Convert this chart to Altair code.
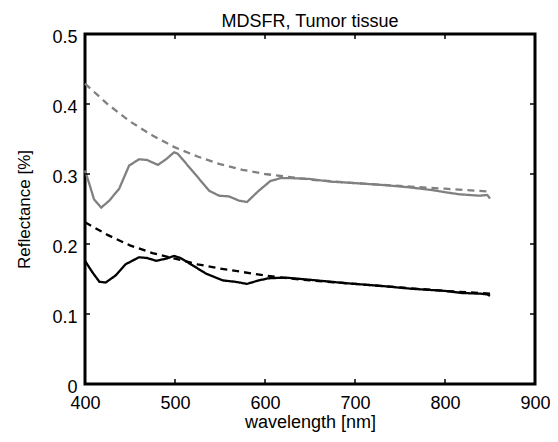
import altair as alt
import pandas as pd

# ---- data ----
gray_solid_wl = [400, 405, 410, 418, 427, 438, 449, 460, 469, 481, 490, 499, 503, 519, 538, 549, 560, 571, 580, 593, 606, 617, 630, 649, 674, 700, 734, 760, 786, 800, 816, 838, 847, 850]
gray_solid_r = [0.305, 0.285, 0.264, 0.252, 0.262, 0.279, 0.312, 0.321, 0.320, 0.313, 0.321, 0.331, 0.329, 0.305, 0.276, 0.269, 0.268, 0.262, 0.260, 0.276, 0.290, 0.294, 0.294, 0.293, 0.289, 0.287, 0.284, 0.281, 0.277, 0.274, 0.271, 0.269, 0.270, 0.265]

gray_dash_wl = [400, 425, 450, 475, 500, 525, 550, 575, 600, 625, 650, 700, 750, 800, 850]
gray_dash_r = [0.429, 0.400, 0.375, 0.355, 0.338, 0.325, 0.314, 0.306, 0.300, 0.296, 0.292, 0.287, 0.283, 0.279, 0.275]

black_solid_wl = [400, 408, 416, 423, 434, 445, 460, 469, 479, 490, 499, 506, 519, 534, 553, 567, 580, 593, 604, 623, 649, 690, 730, 763, 800, 819, 840, 847, 850]
black_solid_r = [0.176, 0.160, 0.146, 0.145, 0.155, 0.171, 0.181, 0.180, 0.176, 0.179, 0.183, 0.180, 0.170, 0.158, 0.148, 0.146, 0.143, 0.148, 0.151, 0.152, 0.149, 0.144, 0.140, 0.136, 0.133, 0.130, 0.129, 0.128, 0.126]

black_dash_wl = [400, 425, 450, 475, 500, 525, 550, 575, 600, 625, 650, 700, 750, 800, 850]
black_dash_r = [0.231, 0.213, 0.198, 0.187, 0.179, 0.171, 0.165, 0.160, 0.155, 0.151, 0.148, 0.143, 0.138, 0.133, 0.129]

x_ticks = [400, 500, 600, 700, 800, 900]
y_ticks = [0, 0.1, 0.2, 0.3, 0.4, 0.5]

series_names = ["gray measured", "gray fit", "black measured", "black fit"]
series_colors = ["#808080", "#808080", "#000000", "#000000"]
series_dash = [[1, 0], [7, 5], [1, 0], [7, 5]]

FONT = "Liberation Sans"
W, H = 450, 350

rows = []
for name, wls, rs in [
    ("gray measured", gray_solid_wl, gray_solid_r),
    ("gray fit", gray_dash_wl, gray_dash_r),
    ("black measured", black_solid_wl, black_solid_r),
    ("black fit", black_dash_wl, black_dash_r),
]:
    for w, r in zip(wls, rs):
        rows.append({"series": name, "wl": w, "R": r})
df = pd.DataFrame(rows)

xscale = alt.Scale(domain=[400, 900], nice=False, zero=False)
yscale = alt.Scale(domain=[0, 0.5], nice=False)

xaxis = alt.Axis(values=x_ticks, title="wavelength [nm]", domain=False, ticks=False, grid=False,
                 labelFont=FONT, labelFontSize=18, labelColor="black", labelPadding=10,
                 titleFont=FONT, titleFontSize=18, titleFontWeight="normal", titleColor="black",
                 titlePadding=1, labelFlush=False)
yaxis = alt.Axis(values=y_ticks, title="Reflectance [%]", domain=False, ticks=False, grid=False,
                 labelFont=FONT, labelFontSize=18, labelColor="black", labelPadding=8,
                 titleFont=FONT, titleFontSize=17, titleFontWeight="normal", titleColor="black",
                 titlePadding=18, labelFlush=False, labelOffset=3, format="g")

lines = alt.Chart(df).mark_line(strokeWidth=2.3).encode(
    x=alt.X("wl:Q", scale=xscale, axis=xaxis),
    y=alt.Y("R:Q", scale=yscale, axis=yaxis),
    color=alt.Color("series:N", scale=alt.Scale(domain=series_names, range=series_colors), legend=None),
    strokeDash=alt.StrokeDash("series:N", scale=alt.Scale(domain=series_names, range=series_dash), legend=None),
    detail="series:N",
)

xt = pd.DataFrame({"v": x_ticks})
yt = pd.DataFrame({"v": y_ticks})
TL = 5
tick_style = dict(color="black", strokeWidth=1.5)
bottom_ticks = alt.Chart(xt).mark_rule(**tick_style).encode(
    x=alt.X("v:Q", scale=xscale, axis=xaxis), y=alt.value(H), y2=alt.value(H - TL))
top_ticks = alt.Chart(xt).mark_rule(**tick_style).encode(
    x=alt.X("v:Q", scale=xscale, axis=xaxis), y=alt.value(0), y2=alt.value(TL))
left_ticks = alt.Chart(yt).mark_rule(**tick_style).encode(
    y=alt.Y("v:Q", scale=yscale, axis=yaxis), x=alt.value(0), x2=alt.value(TL))
right_ticks = alt.Chart(yt).mark_rule(**tick_style).encode(
    y=alt.Y("v:Q", scale=yscale, axis=yaxis), x=alt.value(W), x2=alt.value(W - TL))

chart = alt.layer(lines, bottom_ticks, top_ticks, left_ticks, right_ticks).properties(
    width=W, height=H,
    background="white",
    title=alt.Title("MDSFR, Tumor tissue", font=FONT, fontSize=18, fontWeight="normal",
                    color="black", anchor="middle", offset=-3, frame="group"),
    autosize=alt.AutoSizeParams(type="none"),
    padding={"left": 77, "top": 26, "right": 15, "bottom": 50},
).configure_view(stroke="black", strokeWidth=3)

chart.save("out.html", embed_options={"renderer": "svg", "actions": False})
